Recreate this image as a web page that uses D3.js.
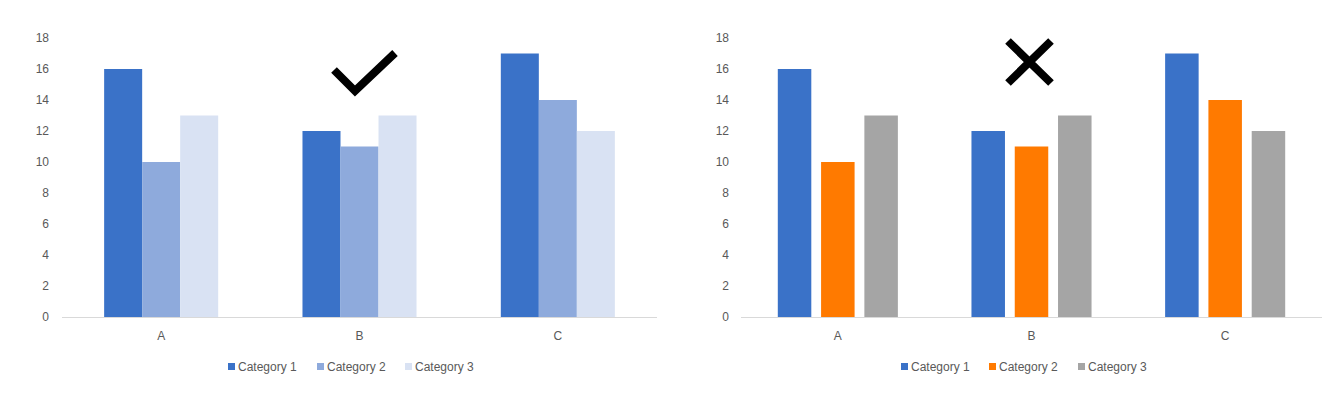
<!DOCTYPE html>
<html><head><meta charset="utf-8">
<script src="https://cdn.jsdelivr.net/npm/d3@7"></script>
<style>body{margin:0;background:#fff}svg{display:block}text{font-family:"Liberation Sans",Arial,sans-serif}</style>
</head><body>
<svg id="c" width="1336" height="400"></svg>
<script>
const categories = ["A","B","C"];
const seriesNames = ["Category 1","Category 2","Category 3"];
const cat1 = [16,12,17];
const cat2 = [10,11,14];
const cat3 = [13,13,12];
const yTicks = [0,2,4,6,8,10,12,14,16,18];
const leftColors = ["#3A72C8","#8EAADC","#D9E2F3"];
const rightColors = ["#3A72C8","#FF7A00","#A5A5A5"];
const seriesValues = [cat1,cat2,cat3];

const svg = d3.select("#c");

function drawChart(cfg){
  const g = svg.append("g");
  const x0 = d3.scaleBand().domain(categories).range([cfg.x0,cfg.x1])
    .paddingInner(cfg.groupPad).paddingOuter(cfg.groupPad/2);
  const x1 = d3.scaleBand().domain(seriesNames).range([0,x0.bandwidth()])
    .paddingInner(cfg.barPad).paddingOuter(0);
  const y = d3.scaleLinear().domain([0,18]).range([317,38]);

  // y labels
  g.selectAll(".yt").data(yTicks).enter().append("text")
    .attr("x",cfg.labelX).attr("y",d=>y(d)).attr("dy","0.35em")
    .attr("text-anchor","end").attr("font-size",12).attr("fill","#595959").text(d=>d);

  // bars
  const groups = g.selectAll(".grp").data(categories).enter().append("g")
    .attr("transform",d=>`translate(${x0(d)},0)`);
  groups.selectAll("rect").data((d,i)=>seriesNames.map((s,j)=>({s,v:seriesValues[j][i],j})))
    .enter().append("rect")
    .attr("x",d=>x1(d.s)).attr("width",x1.bandwidth())
    .attr("y",d=>y(d.v)).attr("height",d=>y(0)-y(d.v))
    .attr("fill",d=>cfg.colors[d.j]);

  // axis line
  g.append("line").attr("x1",cfg.x0).attr("x2",cfg.x1).attr("y1",y(0)+0.5).attr("y2",y(0)+0.5)
    .attr("stroke","#D9D9D9").attr("stroke-width",1);

  // category labels
  g.selectAll(".xt").data(categories).enter().append("text")
    .attr("x",d=>x0(d)+x0.bandwidth()/2).attr("y",336).attr("dy","0.35em")
    .attr("text-anchor","middle").attr("font-size",12).attr("fill","#595959").text(d=>d);

  // legend
  const lg = g.selectAll(".lg").data(seriesNames).enter().append("g")
    .attr("transform",(d,i)=>`translate(${cfg.legendX[i]},367)`);
  lg.append("rect").attr("x",0).attr("y",-4).attr("width",7).attr("height",7)
    .attr("fill",(d,i)=>cfg.colors[i]);
  lg.append("text").attr("x",10).attr("y",0).attr("dy","0.35em").attr("font-size",12)
    .attr("fill","#595959").text(d=>d);
  return g;
}

const left = drawChart({x0:62,x1:657,groupPad:0.425,barPad:0,labelX:49,colors:leftColors,legendX:[228,317,405]});
const right = drawChart({x0:741,x1:1322,groupPad:0.38,barPad:0.226,labelX:729,colors:rightColors,legendX:[901,989,1078]});

// check mark
svg.append("path").attr("d","M334,70 L355,91 L395,53")
  .attr("fill","none").attr("stroke","#000").attr("stroke-width",8).attr("stroke-linejoin","miter");
// cross mark
svg.append("path").attr("d","M1008,41 L1051,83 M1051,41 L1008,83")
  .attr("fill","none").attr("stroke","#000").attr("stroke-width",8);
</script>
</body></html>
